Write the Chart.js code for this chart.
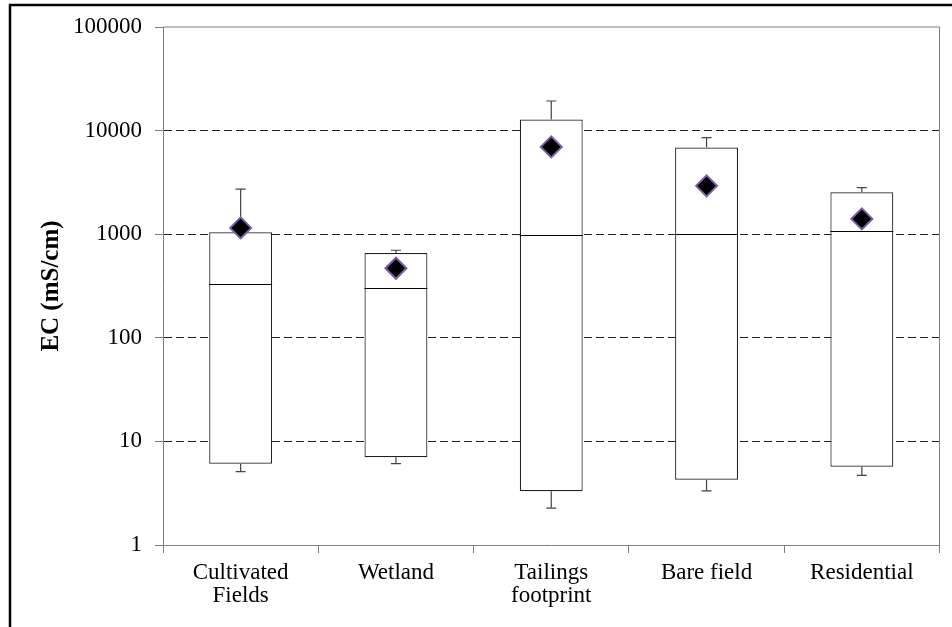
<!DOCTYPE html>
<html>
<head>
<meta charset="utf-8">
<script src="https://cdn.jsdelivr.net/npm/chart.js@4/dist/chart.umd.min.js"></script>
<style>
  html, body { margin: 0; padding: 0; background: #fff; }
  canvas { display: block; }
</style>
</head>
<body>
<canvas id="c" width="952" height="627"></canvas>
<script>
// ---- Data ----
const categories = [['Cultivated', 'Fields'], 'Wetland', ['Tailings', 'footprint'], 'Bare field', 'Residential'];
const minVals    = [5.1, 6.1, 2.27, 3.33, 4.7];
const q1Vals     = [6.1, 7.05, 3.3, 4.26, 5.7];
const medianVals = [330, 300, 990, 1000, 1070];
const q3Vals     = [1045, 659, 12800, 6870, 2540];
const maxVals    = [2720, 700, 19300, 8570, 2820];
const meanVals   = [1150, 469, 6960, 2930, 1405];
const yTickValues = [1, 10, 100, 1000, 10000, 100000];
const yTitle = 'EC (mS/cm)';

const FONT = "'Liberation Serif', 'Times New Roman', serif";
Chart.defaults.font.family = FONT;
Chart.defaults.color = '#000';

const boxExtras = {
  id: 'boxExtras',
  beforeDraw(chart) {
    const ctx = chart.ctx;
    ctx.save();
    ctx.fillStyle = '#fff';
    ctx.fillRect(0, 0, chart.width, chart.height);
    ctx.strokeStyle = '#000';
    ctx.lineWidth = 2.5;
    ctx.strokeRect(10, 5, chart.width + 20, chart.height + 20);
    ctx.restore();
  },
  afterDatasetDraw(chart, args) {
    if (args.index !== 0) return;
    const ctx = chart.ctx;
    const y = chart.scales.y;
    const meta = chart.getDatasetMeta(0);
    ctx.save();
    categories.forEach((c, i) => {
      const bar = meta.data[i];
      const cx = bar.x, half = bar.width / 2;
      // median
      const ym = Math.round(y.getPixelForValue(medianVals[i])) + 0.5;
      ctx.strokeStyle = '#000';
      ctx.lineWidth = 1;
      ctx.beginPath();
      ctx.moveTo(cx - half, ym);
      ctx.lineTo(cx + half, ym);
      ctx.stroke();
      // whiskers
      ctx.strokeStyle = '#444';
      ctx.lineWidth = 1.2;
      const yq3 = y.getPixelForValue(q3Vals[i]);
      const yMax = y.getPixelForValue(maxVals[i]);
      const yq1 = y.getPixelForValue(q1Vals[i]);
      const yMin = y.getPixelForValue(minVals[i]);
      const capHalf = 5;
      ctx.beginPath();
      ctx.moveTo(cx, yq3); ctx.lineTo(cx, yMax);
      ctx.moveTo(cx - capHalf, yMax); ctx.lineTo(cx + capHalf, yMax);
      ctx.moveTo(cx, yq1); ctx.lineTo(cx, yMin);
      ctx.moveTo(cx - capHalf, yMin); ctx.lineTo(cx + capHalf, yMin);
      ctx.stroke();
    });
    ctx.restore();
  },
  afterDraw(chart) {
    const {ctx, chartArea: a} = chart;
    ctx.save();
    ctx.strokeStyle = '#7f7f7f';
    ctx.lineWidth = 1;
    ctx.beginPath();
    ctx.moveTo(a.left, a.top); ctx.lineTo(a.right, a.top); ctx.lineTo(a.right, a.bottom);
    ctx.stroke();
    ctx.restore();
  }
};

new Chart(document.getElementById('c'), {
  type: 'bar',
  data: {
    labels: categories,
    datasets: [
      {
        type: 'bar',
        label: 'IQR',
        data: categories.map((c, i) => [q1Vals[i], q3Vals[i]]),
        backgroundColor: '#fff',
        borderColor: '#222',
        borderWidth: 1.2,
        borderSkipped: false,
        barPercentage: 0.405,
        categoryPercentage: 1,
        order: 2
      },
      {
        type: 'line',
        label: 'Mean',
        data: meanVals,
        showLine: false,
        pointStyle: 'rectRot',
        pointRadius: 10.5,
        pointBackgroundColor: '#000',
        pointBorderColor: '#7a5ca8',
        pointBorderWidth: 2,
        order: 1
      }
    ]
  },
  options: {
    responsive: false,
    animation: false,
    events: [],
    layout: { padding: { left: 0, right: 12, top: 27, bottom: 0 } },
    plugins: { legend: { display: false }, tooltip: { enabled: false } },
    scales: {
      x: {
        type: 'category',
        offset: true,
        grid: { drawOnChartArea: false, drawTicks: true, tickLength: 8, color: '#7f7f7f', offset: true },
        border: { display: true, color: '#7f7f7f', width: 1 },
        ticks: { font: { size: 23, lineHeight: 1.0 }, color: '#000', padding: 8, maxRotation: 0, autoSkip: false },
        afterFit(scale) { scale.height = 82; }
      },
      y: {
        type: 'logarithmic',
        min: 1,
        max: 100000,
        afterBuildTicks(scale) { scale.ticks = yTickValues.map(v => ({ value: v })); },
        grid: {
          drawTicks: true,
          tickLength: 8,
          tickColor: '#7f7f7f',
          color: (ctx) => (ctx.tick && (ctx.tick.value === 1 || ctx.tick.value === 100000)) ? 'rgba(0,0,0,0)' : '#222',
          lineWidth: 1
        },
        border: { display: true, color: '#7f7f7f', width: 1, dash: [8, 4] },
        ticks: {
          font: { size: 23 },
          color: '#000',
          padding: 13,
          callback: (v) => String(v)
        },
        title: {
          display: true,
          text: yTitle,
          font: { size: 25, weight: 'bold' },
          color: '#000',
          padding: { top: 37, bottom: 0 }
        },
        afterFit(scale) { scale.width = 163; }
      }
    }
  },
  plugins: [boxExtras]
});
</script>
</body>
</html>
